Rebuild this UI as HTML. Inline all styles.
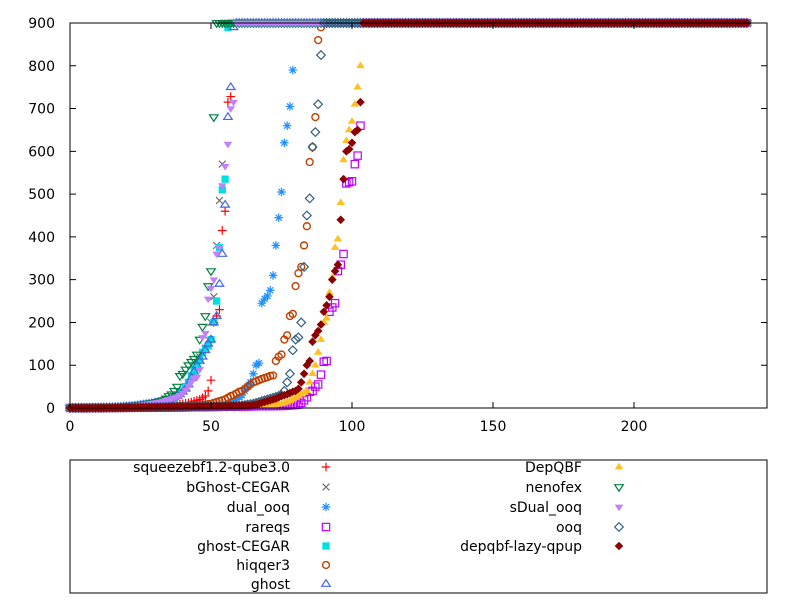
<!DOCTYPE html>
<html><head><meta charset="utf-8"><style>
body{margin:0;background:#fff}
svg{display:block;font-family:"DejaVu Sans","Liberation Sans",sans-serif}
</style></head><body>
<svg id="chart" width="800" height="600" viewBox="0 0 800 600" xmlns="http://www.w3.org/2000/svg">
<rect x="0" y="0" width="800" height="600" fill="#fff"/>
<g id="marks"></g>
<rect x="70" y="23" width="697" height="385" fill="none" stroke="#000" stroke-width="1"/>
<g id="axes"></g>
<rect x="70" y="460" width="697" height="133" fill="none" stroke="#000" stroke-width="1"/>
<g id="legend"></g>
</svg>
<script>
const xTicks = [0, 50, 100, 150, 200];
const yTicks = [0, 100, 200, 300, 400, 500, 600, 700, 800, 900];
const timeoutValue = 900;
const totalInstances = 241;

const seriesNames = ["squeezebf1.2-qube3.0","bGhost-CEGAR","dual_ooq","rareqs","ghost-CEGAR","hiqqer3","ghost","DepQBF","nenofex","sDual_ooq","ooq","depqbf-lazy-qpup"];

const squeezebf = [0.1,0.1,0.1,0.2,0.2,0.2,0.3,0.3,0.4,0.4,0.5,0.5,0.6,0.7,0.8,0.9,1,1,1.2,1.3,1.5,1.6,1.8,2,2.2,2.5,2.8,3,3.2,3.5,3.8,4,4.5,5,5.5,6,6.5,7,8,9,10,11,12,14,16,18,20,24,28,40,65,200,215,230,415,460,715,728];
const bGhost = [0.1,0.1,0.1,0.2,0.2,0.3,0.3,0.4,0.5,0.6,0.7,0.8,1,1.2,1.4,1.6,1.9,2.2,2.5,3,3.5,4,4.5,5,6,7,8,9,10,11,12,13,14,16,18,20,22,25,30,35,40,50,60,75,90,100,120,130,140,160,200,260,380,485,570];
const dualOoq = [0.1,0.1,0.1,0.1,0.2,0.2,0.2,0.3,0.3,0.3,0.4,0.4,0.5,0.5,0.6,0.6,0.7,0.8,0.9,1,1,1.1,1.2,1.3,1.4,1.5,1.6,1.8,2,2.1,2.2,2.4,2.6,2.8,3,3.2,3.4,3.6,3.8,4,4.2,4.4,4.6,4.8,5,5.2,5.4,5.6,5.8,6,6.3,6.6,7,7.3,7.6,8,10,13,17,20,25,30,40,50,60,80,100,105,245,255,262,275,310,380,445,505,620,660,705,790];
const rareqs = [0.1,0.1,0.1,0.1,0.1,0.1,0.1,0.2,0.2,0.2,0.2,0.2,0.3,0.3,0.3,0.3,0.4,0.4,0.4,0.5,0.5,0.5,0.6,0.6,0.6,0.7,0.7,0.8,0.8,0.9,0.9,1,1,1.1,1.1,1.2,1.2,1.3,1.3,1.4,1.5,1.5,1.6,1.7,1.8,1.9,2,2.1,2.2,2.3,2.4,2.5,2.6,2.7,2.8,2.9,3,3.1,3.2,3.3,3.4,3.5,3.6,3.7,3.8,3.9,4,4.1,4.2,4.3,4.4,4.5,4.6,4.7,4.8,4.9,5,5.5,6,6.5,7,8,12,18,25,38,40,50,55,78,108,110,225,235,245,320,335,360,525,528,530,570,590,660];
const ghostCegar = [0.1,0.1,0.1,0.2,0.2,0.3,0.3,0.4,0.5,0.6,0.7,0.8,1,1.2,1.4,1.6,1.9,2.2,2.5,3,3.5,4,4.5,5,6,7,8,9,10,11,12,13,14,16,18,20,22,25,30,35,40,50,60,75,90,100,115,130,138,145,160,200,250,375,510,535,890];
const hiqqer3 = [0.1,0.1,0.1,0.1,0.2,0.2,0.2,0.3,0.3,0.3,0.4,0.4,0.5,0.5,0.6,0.7,0.8,0.9,1,1.1,1.2,1.3,1.4,1.5,1.6,1.8,2,2.2,2.4,2.6,2.8,3,3.2,3.4,3.6,3.8,4,4.2,4.4,4.6,4.8,5,5.2,5.4,5.6,5.8,6,7,8,9,10,12,14,16,18,20,24,28,30,34,38,40,45,50,55,60,62,65,68,70,72,75,76,110,120,125,160,170,215,220,285,315,330,380,425,575,610,680,860,890];
const ghost = [0.1,0.1,0.1,0.2,0.2,0.3,0.3,0.4,0.5,0.6,0.7,0.8,1,1.2,1.4,1.6,1.9,2.2,2.5,3,3.5,4,4.5,5,6,7,8,9,10,11,12,13,14,16,18,20,22,25,28,32,38,45,55,70,85,100,110,120,135,150,160,200,215,290,360,475,680,750,890];
const depqbf = [0.1,0.1,0.1,0.1,0.1,0.2,0.2,0.2,0.2,0.3,0.3,0.3,0.3,0.4,0.4,0.4,0.5,0.5,0.5,0.6,0.6,0.7,0.7,0.8,0.8,0.9,0.9,1,1,1.1,1.2,1.3,1.4,1.5,1.6,1.7,1.8,1.9,2,2.1,2.2,2.3,2.4,2.5,2.6,2.7,2.8,2.9,3,3.1,3.2,3.3,3.4,3.5,3.6,3.7,3.8,3.9,4,4.1,4.2,4.3,4.4,4.5,4.6,4.7,4.8,4.9,5,5,5,6,7,8,9,10,12,14,17,20,24,28,32,36,40,60,80,100,130,160,200,210,270,305,375,395,480,580,625,650,670,710,750,800];
const nenofex = [0.1,0.1,0.1,0.2,0.2,0.3,0.3,0.4,0.5,0.6,0.7,0.8,1,1.2,1.4,1.6,1.9,2.2,2.5,3,3.5,4,4.5,5,6,7,8,9,10,11,12,14,16,18,22,28,32,40,50,75,80,90,100,108,115,125,160,190,215,285,320,680];
const sDualOoq = [0.1,0.1,0.1,0.2,0.2,0.3,0.3,0.4,0.5,0.6,0.7,0.8,1,1.2,1.4,1.6,1.9,2.2,2.5,3,3.5,4,4.5,5,6,7,8,9,10,11,12,13,14,16,18,20,22,24,26,30,35,42,50,60,70,72,90,165,175,255,280,300,360,375,520,565,617,700,715];
const ooq = [0.1,0.1,0.1,0.1,0.2,0.2,0.2,0.3,0.3,0.3,0.4,0.4,0.5,0.5,0.6,0.6,0.7,0.8,0.9,1,1.1,1.2,1.3,1.4,1.5,1.6,1.7,1.8,1.9,2,2.1,2.2,2.3,2.4,2.5,2.6,2.7,2.8,2.9,3,3.1,3.2,3.3,3.4,3.5,3.6,3.7,3.8,3.9,4,4.1,4.2,4.3,4.4,4.5,4.6,4.7,4.8,4.9,5,5,6,7,8,9,10,12,14,16,18,20,22,24,26,28,30,40,60,80,135,160,165,200,330,450,490,610,645,710,825];
const depqbfLazy = [0.1,0.1,0.1,0.1,0.2,0.2,0.2,0.3,0.3,0.3,0.4,0.4,0.5,0.5,0.6,0.6,0.7,0.8,0.9,1,1.1,1.2,1.3,1.4,1.5,1.6,1.7,1.8,1.9,2,2.1,2.2,2.3,2.4,2.5,2.6,2.7,2.8,2.9,3,3.1,3.2,3.3,3.4,3.5,3.6,3.7,3.8,3.9,4,4.1,4.2,4.3,4.4,4.5,4.6,4.7,4.8,4.9,5,5.2,5.4,5.6,5.8,6,7,8,10,12,14,16,18,20,22,25,28,30,32,35,38,40,45,60,80,100,110,155,170,180,195,225,240,260,300,320,335,440,535,600,605,620,645,650,715];

const NS = "http://www.w3.org/2000/svg";
const X0 = 70, X1 = 767, Y0 = 408, Y1 = 23;
function xs(v){ return X0 + v * 2.82; }
function ys(v){ return Y0 - v * (Y0 - Y1) / 900; }

function mk(tag, attrs, parent){
  const e = document.createElementNS(NS, tag);
  for (const k in attrs) e.setAttribute(k, attrs[k]);
  parent.appendChild(e);
  return e;
}
function tri(cx, cy, s, up){
  const h = s * 0.9;
  return up ? `${cx-s},${cy+h*0.6} ${cx+s},${cy+h*0.6} ${cx},${cy-h*1.1}`
            : `${cx-s},${cy-h*0.6} ${cx+s},${cy-h*0.6} ${cx},${cy+h*1.1}`;
}
function symbol(g, type, cx, cy, color){
  const s = 4.3;
  const sw = 1.2;
  let el;
  if (type === "plus") {
    el = mk("path", {d:`M${cx-s},${cy}H${cx+s}M${cx},${cy-s}V${cy+s}`, stroke:color, "stroke-width":sw, fill:"none"}, g);
  } else if (type === "cross") {
    el = mk("path", {d:`M${cx-s*0.8},${cy-s*0.8}L${cx+s*0.8},${cy+s*0.8}M${cx-s*0.8},${cy+s*0.8}L${cx+s*0.8},${cy-s*0.8}`, stroke:color, "stroke-width":sw, fill:"none"}, g);
  } else if (type === "star") {
    el = mk("path", {d:`M${cx-s},${cy}H${cx+s}M${cx},${cy-s}V${cy+s}M${cx-s*0.7},${cy-s*0.7}L${cx+s*0.7},${cy+s*0.7}M${cx-s*0.7},${cy+s*0.7}L${cx+s*0.7},${cy-s*0.7}`, stroke:color, "stroke-width":sw, fill:"none"}, g);
  } else if (type === "osquare") {
    el = mk("rect", {x:cx-s*0.85, y:cy-s*0.85, width:s*1.7, height:s*1.7, stroke:color, "stroke-width":sw, fill:"none"}, g);
  } else if (type === "fsquare") {
    el = mk("rect", {x:cx-s*0.85, y:cy-s*0.85, width:s*1.7, height:s*1.7, fill:color}, g);
  } else if (type === "ocircle") {
    el = mk("circle", {cx:cx, cy:cy, r:s*0.8, stroke:color, "stroke-width":1.4, fill:"none"}, g);
  } else if (type === "otri") {
    el = mk("polygon", {points:tri(cx,cy,s,true), stroke:color, "stroke-width":sw, fill:"none"}, g);
  } else if (type === "ftri") {
    el = mk("polygon", {points:tri(cx,cy,s,true), fill:color}, g);
  } else if (type === "oinv") {
    el = mk("polygon", {points:tri(cx,cy,s,false), stroke:color, "stroke-width":sw, fill:"none"}, g);
  } else if (type === "finv") {
    el = mk("polygon", {points:tri(cx,cy,s,false), fill:color}, g);
  } else if (type === "odia") {
    el = mk("polygon", {points:`${cx},${cy-s} ${cx+s},${cy} ${cx},${cy+s} ${cx-s},${cy}`, stroke:color, "stroke-width":sw, fill:"none"}, g);
  } else {
    el = mk("polygon", {points:`${cx},${cy-s} ${cx+s},${cy} ${cx},${cy+s} ${cx-s},${cy}`, fill:color}, g);
  }
  return el;
}

const allData = [squeezebf,bGhost,dualOoq,rareqs,ghostCegar,hiqqer3,ghost,depqbf,nenofex,sDualOoq,ooq,depqbfLazy];
const styles = [
  ["plus","#ff0000"],["cross","#707070"],["star","#1e90ff"],["osquare","#c000ff"],
  ["fsquare","#00e0e0"],["ocircle","#c04000"],["otri","#4169e1"],["ftri","#ffc020"],
  ["oinv","#008040"],["finv","#c080ff"],["odia","#306080"],["fdia","#8b0000"]
];

const marks = document.getElementById("marks");
allData.forEach((arr, si) => {
  const g = mk("g", {}, marks);
  
  
  const [type, color] = styles[si];
  for (let i = 0; i < totalInstances; i++) {
    const v = i < arr.length ? arr[i] : timeoutValue;
    const p = symbol(g, type, xs(i), ys(v), color);
    
    
  }
});

const axes = document.getElementById("axes");
xTicks.forEach(t => {
  const x = xs(t);
  const l = mk("path", {d:`M${x},${Y0}v-6M${x},${Y1}v6`, stroke:"#000", "stroke-width":1}, axes);
  
  
  const tx = mk("text", {x:x, y:431, "text-anchor":"middle", "font-size":14, fill:"#000"}, axes);
  tx.textContent = t;
  
  
});
yTicks.forEach(t => {
  const y = ys(t);
  const l = mk("path", {d:`M${X0},${y}h6M${X1},${y}h-6`, stroke:"#000", "stroke-width":1}, axes);
  
  
  const tx = mk("text", {x:55, y:y+5, "text-anchor":"end", "font-size":14, fill:"#000"}, axes);
  tx.textContent = t;
  
  
});

const legend = document.getElementById("legend");
const rowsY = [467, 487, 507, 527, 546, 565, 584];
seriesNames.forEach((name, i) => {
  const col = i < 7 ? 0 : 1;
  const row = i < 7 ? i : i - 7;
  const y = rowsY[row];
  const tx = mk("text", {x: col ? 582 : 290, y: y + 5, "text-anchor":"end", "font-size":14, fill:"#000"}, legend);
  tx.textContent = name;
  
  
  const s = symbol(legend, styles[i][0], col ? 619 : 326, y, styles[i][1]);
  
  
});
</script>
</body></html>
